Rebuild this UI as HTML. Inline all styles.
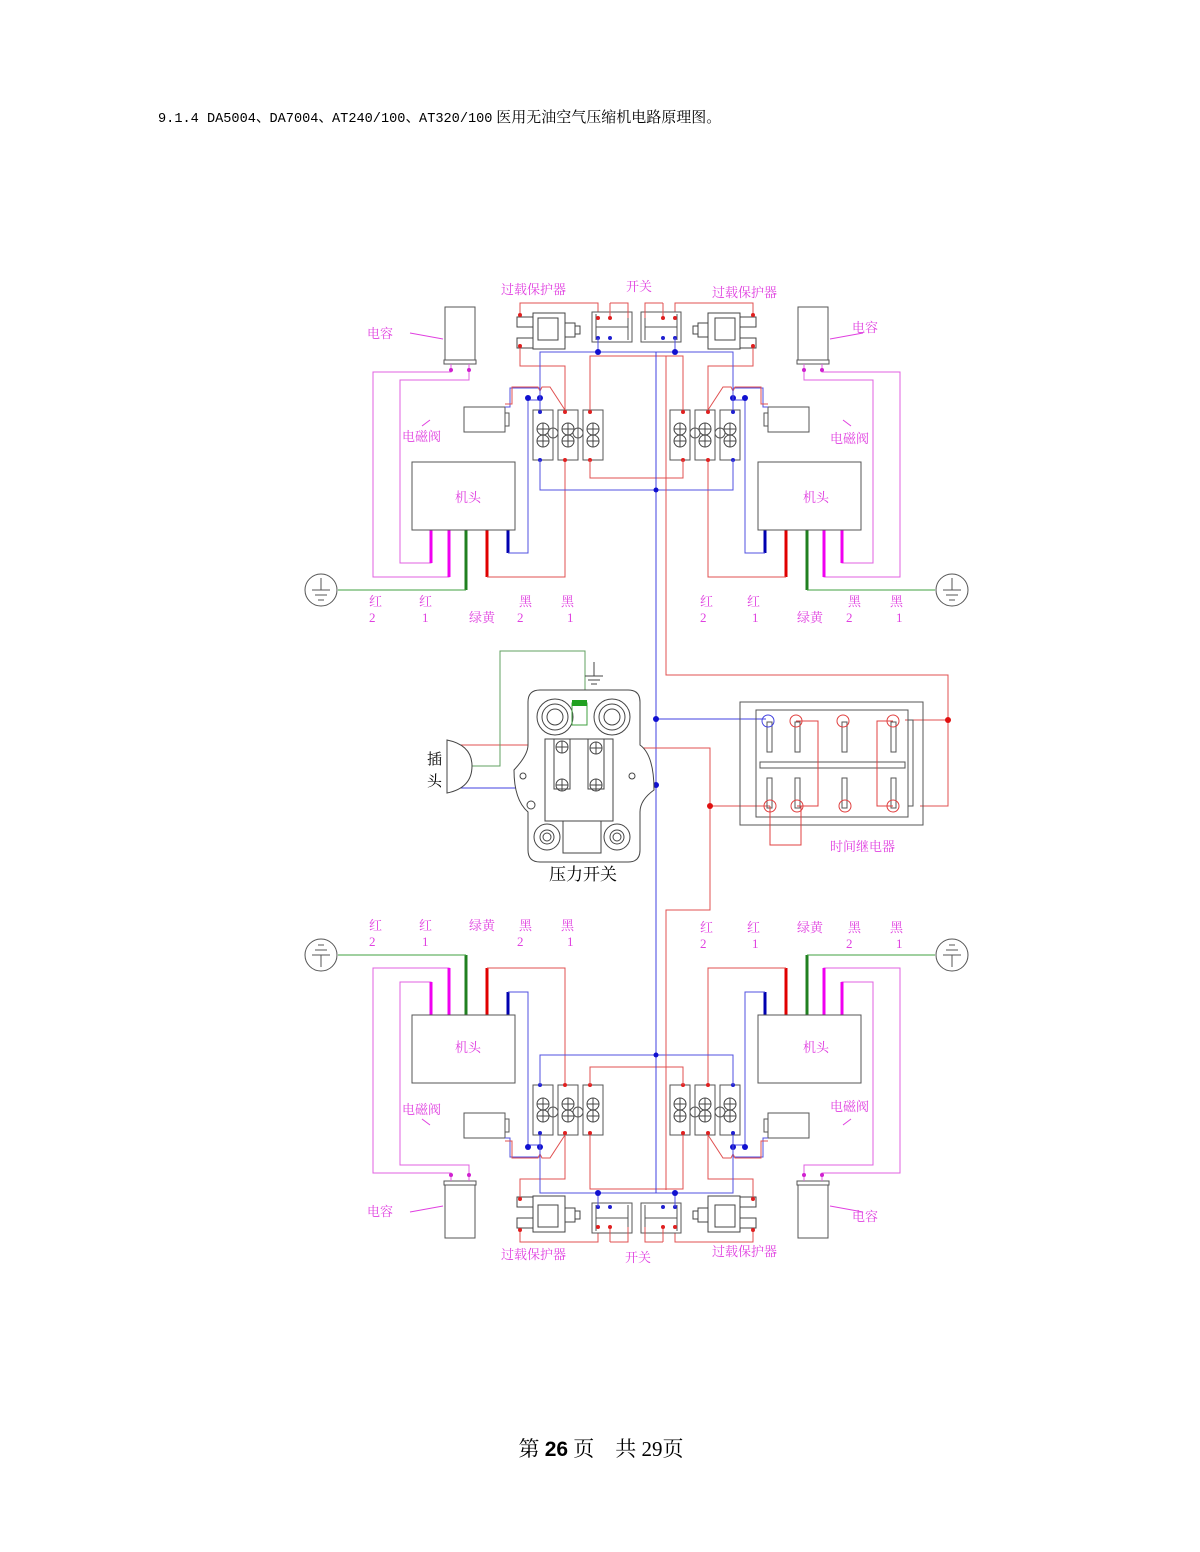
<!DOCTYPE html>
<html><head><meta charset="utf-8"><style>
html,body{margin:0;padding:0;background:#fff}
svg{display:block}
.m{font-family:"Liberation Serif","Noto Serif CJK SC",serif;fill:#e040e0;font-size:13px}
</style></head><body>
<svg width="1200" height="1552" viewBox="0 0 1200 1552" xmlns="http://www.w3.org/2000/svg">
<defs>
<g id="term"><rect x="0" y="0" width="20" height="50" fill="#fff" stroke="#555"/>
<circle cx="10" cy="19" r="6" fill="none" stroke="#444"/><circle cx="10" cy="31" r="6" fill="none" stroke="#444"/>
<path d="M4 19h12M10 13v12M4 31h12M10 25v12" stroke="#444" stroke-width="1"/></g>
<g id="q" fill="none" stroke-width="1">
<rect x="445" y="307" width="30" height="53" stroke="#555" fill="#fff"/>
<rect x="444" y="360" width="32" height="4" stroke="#555"/>
<path d="M410 333 L443 339" stroke="#e040e0"/>
<path d="M451 364V372H373V577H449V530" stroke="#e060e0"/>
<path d="M469 364V380H400V563H431V530" stroke="#e060e0"/>
<circle cx="451" cy="370" r="2" fill="#d020d0" stroke="none"/><circle cx="469" cy="370" r="2" fill="#d020d0" stroke="none"/>
<path d="M431 530V563M449 530V577" stroke="#f000f0" stroke-width="3"/>
<path d="M466 530V590" stroke="#208020" stroke-width="3"/>
<path d="M487 530V577" stroke="#e00000" stroke-width="3"/>
<path d="M508 530V553" stroke="#0000b0" stroke-width="3"/>
<path d="M466 590H338" stroke="#40a040"/>
<path d="M487 577H565V460" stroke="#e05050"/>
<path d="M508 553H528V400H540" stroke="#5050e0"/>
<circle cx="321" cy="590" r="16" stroke="#555" fill="#fff"/>
<path d="M321 578V590M312 590H330M315 595H327M318 600H324" stroke="#555"/>
<rect x="412" y="462" width="103" height="68" stroke="#555" fill="#fff"/>
<rect x="464" y="407" width="41" height="25" stroke="#555" fill="#fff"/>
<rect x="505" y="413" width="4" height="13" stroke="#555"/>
<path d="M505 407H510V388H540V400" stroke="#5050e0"/>
<path d="M505 404H512V387H538l2 4l2 -4h8L565 410" stroke="#e05050"/>
<path d="M430 420l-8 6" stroke="#e040e0"/>
<use href="#term" x="533" y="410"/><use href="#term" x="558" y="410"/><use href="#term" x="583" y="410"/>
<circle cx="553" cy="433" r="5" stroke="#555"/><circle cx="578" cy="433" r="5" stroke="#555"/>
<circle cx="540" cy="412" r="2" fill="#2020d0" stroke="none"/><circle cx="565" cy="412" r="2" fill="#e02020" stroke="none"/><circle cx="590" cy="412" r="2" fill="#e02020" stroke="none"/>
<circle cx="540" cy="460" r="2" fill="#2020d0" stroke="none"/><circle cx="565" cy="460" r="2" fill="#e02020" stroke="none"/><circle cx="590" cy="460" r="2" fill="#e02020" stroke="none"/>
<circle cx="528" cy="398" r="3" fill="#1010d0" stroke="none"/><circle cx="540" cy="398" r="3" fill="#1010d0" stroke="none"/>
<rect x="533" y="313" width="32" height="36" stroke="#444" fill="#fff"/>
<rect x="538" y="318" width="20" height="22" stroke="#444"/>
<path d="M517 317h16v10h-16zM517 338h16v10h-16z" stroke="#444"/>
<rect x="565" y="323" width="10" height="14" stroke="#444"/><rect x="575" y="326" width="5" height="8" stroke="#444"/>
<path d="M520 317V303H598V318" stroke="#e05050"/>
<path d="M520 345V366H565V410" stroke="#e05050"/>
<circle cx="520" cy="315" r="2" fill="#e02020" stroke="none"/><circle cx="520" cy="346" r="2" fill="#e02020" stroke="none"/>
<rect x="592" y="312" width="40" height="30" stroke="#555" fill="#fff"/>
<path d="M596 314V340M628 314V340M596 327H628" stroke="#555"/>
<path d="M610 303H628V318" stroke="#e05050"/><path d="M610 303V318" stroke="#e05050"/>
<circle cx="598" cy="318" r="2" fill="#e02020" stroke="none"/><circle cx="610" cy="318" r="2" fill="#e02020" stroke="none"/>
<circle cx="598" cy="338" r="2" fill="#2020d0" stroke="none"/><circle cx="610" cy="338" r="2" fill="#2020d0" stroke="none"/>
<path d="M598 338V352" stroke="#5050e0"/>
<path d="M540 410V352H656" stroke="#5050e0"/>
<circle cx="598" cy="352" r="3" fill="#1010d0" stroke="none"/>
<path d="M590 410V356H656" stroke="#e05050"/>
<path d="M540 460V490H656" stroke="#5050e0"/>
<path d="M590 460V478H656" stroke="#e05050"/>
</g>
</defs>
<text x="158" y="122" style="font-family:'Liberation Mono',monospace;font-size:13.6px;fill:#000">9.1.4 DA5004、DA7004、AT240/100、AT320/100<tspan style="font-family:'Liberation Serif','Noto Serif CJK SC',serif;font-size:15px"> 医用无油空气压缩机电路原理图。</tspan></text>

<use href="#q"/>
<use href="#q" transform="translate(1273,0) scale(-1,1)"/>
<use href="#q" transform="translate(0,1545) scale(1,-1)"/>
<use href="#q" transform="translate(1273,1545) scale(-1,-1)"/>

<g fill="none">
<path d="M656 352V1193" stroke="#4040e0"/>
<path d="M666 356V675H948V806H920" stroke="#e05050"/>
<path d="M948 720H905" stroke="#e05050"/>
<path d="M656 719H766" stroke="#4040e0"/>
<path d="M605 748H710V910H666V1190" stroke="#e05050"/>
<path d="M710 806H770" stroke="#e05050"/>
<path d="M605 785H656" stroke="#4040e0"/>
<path d="M450 745H562" stroke="#e05050"/><path d="M450 788H562" stroke="#4040e0"/>
<path d="M468 766H500V651H585V700" stroke="#60a060"/>
</g>
<g fill="#1010d0"><circle cx="656" cy="490" r="2.5"/><circle cx="656" cy="719" r="3"/><circle cx="656" cy="785" r="3"/><circle cx="656" cy="1055" r="2.5"/></g>
<g fill="#e01010"><circle cx="948" cy="720" r="3"/><circle cx="710" cy="806" r="3"/></g>
<path d="M594 662V676M585 676H603M588 680H600M591 684H597" stroke="#444" fill="none"/>
<path d="M447 740Q472 745 472 766Q472 788 447 793Z" fill="#fff" stroke="#444"/>
<text x="427" y="764" style="font-family:'Liberation Serif','Noto Serif CJK SC',serif;font-size:15px">插</text>
<text x="427" y="786" style="font-family:'Liberation Serif','Noto Serif CJK SC',serif;font-size:15px">头</text>
<g fill="none" stroke="#444">
<path d="M540 690H628Q640 690 640 702V745Q654 755 654 790Q640 800 640 812V850Q640 862 628 862H540Q528 862 528 850V812Q514 800 514 770Q528 755 528 745V702Q528 690 540 690Z" fill="#fff"/>
<circle cx="555" cy="717" r="18"/><circle cx="555" cy="717" r="13"/><circle cx="555" cy="717" r="8"/>
<circle cx="612" cy="717" r="18"/><circle cx="612" cy="717" r="13"/><circle cx="612" cy="717" r="8"/>
<circle cx="547" cy="837" r="13"/><circle cx="547" cy="837" r="7"/><circle cx="547" cy="837" r="4"/>
<circle cx="617" cy="837" r="13"/><circle cx="617" cy="837" r="7"/><circle cx="617" cy="837" r="4"/>
<rect x="545" y="739" width="68" height="82" fill="#fff"/>
<rect x="554" y="739" width="16" height="50"/><rect x="588" y="739" width="16" height="50"/>
<circle cx="562" cy="747" r="6"/><circle cx="562" cy="785" r="6"/><circle cx="596" cy="748" r="6"/><circle cx="596" cy="785" r="6"/>
<path d="M556 747h12M562 741v12M556 785h12M562 779v12M590 748h12M596 742v12M590 785h12M596 779v12"/>
<rect x="563" y="821" width="38" height="32"/>
<circle cx="523" cy="776" r="3"/><circle cx="632" cy="776" r="3"/><circle cx="531" cy="805" r="4"/>
<rect x="572" y="703" width="15" height="22" stroke="#40a040"/>
</g>
<rect x="572" y="700" width="15" height="6" fill="#20a020"/>
<text x="549" y="880" style="font-family:'Liberation Serif','Noto Serif CJK SC',serif;font-size:17px">压力开关</text>
<g fill="none">
<rect x="740" y="702" width="183" height="123" stroke="#555"/>
<rect x="756" y="710" width="152" height="107" stroke="#555"/>
<rect x="760" y="762" width="145" height="6" stroke="#555"/>
<g stroke="#555"><rect x="767" y="722" width="5" height="30"/><rect x="795" y="722" width="5" height="30"/><rect x="842" y="722" width="5" height="30"/><rect x="891" y="722" width="5" height="30"/>
<rect x="767" y="778" width="5" height="30"/><rect x="795" y="778" width="5" height="30"/><rect x="842" y="778" width="5" height="30"/><rect x="891" y="778" width="5" height="30"/></g>
<circle cx="768" cy="721" r="6" stroke="#4040e0"/>
<g stroke="#e04040"><circle cx="796" cy="721" r="6"/><circle cx="843" cy="721" r="6"/><circle cx="893" cy="721" r="6"/><circle cx="770" cy="806" r="6"/><circle cx="797" cy="806" r="6"/><circle cx="845" cy="806" r="6"/><circle cx="893" cy="806" r="6"/>
<path d="M796 721H818V806H797M770 806V845H801V806M893 721H877V806H893"/></g>
<path d="M908 720H913V806H908" stroke="#555"/>
</g>
<g class="m">
<text x="501" y="294">过载保护器</text><text x="626" y="291">开关</text><text x="712" y="297">过载保护器</text>
<text x="367" y="338">电容</text><text x="852" y="332">电容</text>
<text x="402" y="441">电磁阀</text><text x="830" y="443">电磁阀</text>
<text x="455" y="502">机头</text><text x="803" y="502">机头</text>
<text x="830" y="851">时间继电器</text>
<text x="455" y="1052">机头</text><text x="803" y="1052">机头</text>
<text x="402" y="1114">电磁阀</text><text x="830" y="1111">电磁阀</text>
<text x="367" y="1216">电容</text><text x="852" y="1221">电容</text>
<text x="501" y="1259">过载保护器</text><text x="625" y="1262">开关</text><text x="712" y="1256">过载保护器</text>
<text x="369" y="606">红</text><text x="419" y="606">红</text><text x="519" y="606">黑</text><text x="561" y="606">黑</text>
<text x="369" y="622">2</text><text x="422" y="622">1</text><text x="469" y="622">绿黄</text><text x="517" y="622">2</text><text x="567" y="622">1</text>
<text x="700" y="606">红</text><text x="747" y="606">红</text><text x="848" y="606">黑</text><text x="890" y="606">黑</text>
<text x="700" y="622">2</text><text x="752" y="622">1</text><text x="797" y="622">绿黄</text><text x="846" y="622">2</text><text x="896" y="622">1</text>
<text x="369" y="930">红</text><text x="419" y="930">红</text><text x="469" y="930">绿黄</text><text x="519" y="930">黑</text><text x="561" y="930">黑</text>
<text x="369" y="946">2</text><text x="422" y="946">1</text><text x="517" y="946">2</text><text x="567" y="946">1</text>
<text x="700" y="932">红</text><text x="747" y="932">红</text><text x="797" y="932">绿黄</text><text x="848" y="932">黑</text><text x="890" y="932">黑</text>
<text x="700" y="948">2</text><text x="752" y="948">1</text><text x="846" y="948">2</text><text x="896" y="948">1</text>
</g>
<text x="601" y="1456" text-anchor="middle" style="font-family:'Liberation Serif','Noto Serif CJK SC',serif;font-size:21px">第 <tspan font-family="Liberation Sans" font-weight="bold">26</tspan> 页　共 29页</text>
</svg>
</body></html>
